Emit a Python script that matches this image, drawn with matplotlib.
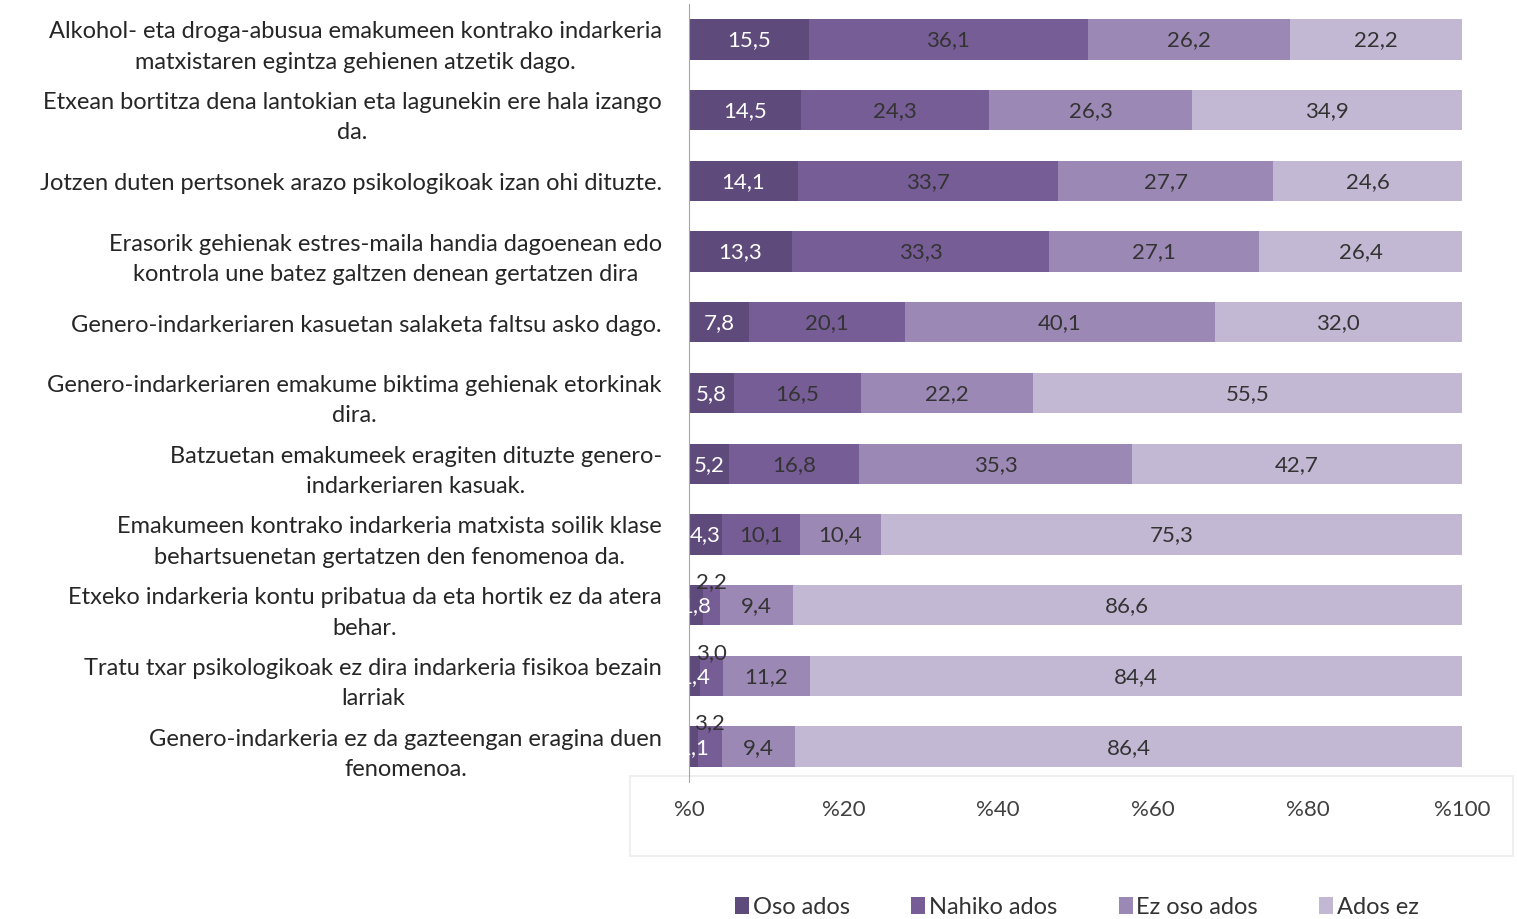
import numpy as np
import matplotlib
matplotlib.use("Agg")
from matplotlib import pyplot as plt
from matplotlib.patches import Rectangle

plt.rcParams['font.family'] = ['Lato', 'DejaVu Sans']

# statements, top to bottom
statements = [
    "Alkohol- eta droga-abusua emakumeen kontrako indarkeria\nmatxistaren egintza gehienen atzetik dago.",
    "Etxean bortitza dena lantokian eta lagunekin ere hala izango\nda.",
    "Jotzen duten pertsonek arazo psikologikoak izan ohi dituzte.",
    "Erasorik gehienak estres-maila handia dagoenean edo\nkontrola une batez galtzen denean gertatzen dira",
    "Genero-indarkeriaren kasuetan salaketa faltsu asko dago.",
    "Genero-indarkeriaren emakume biktima gehienak etorkinak\ndira.",
    "Batzuetan emakumeek eragiten dituzte genero-\nindarkeriaren kasuak.",
    "Emakumeen kontrako indarkeria matxista soilik klase\nbehartsuenetan gertatzen den fenomenoa da.",
    "Etxeko indarkeria kontu pribatua da eta hortik ez da atera\nbehar.",
    "Tratu txar psikologikoak ez dira indarkeria fisikoa bezain\nlarriak",
    "Genero-indarkeria ez da gazteengan eragina duen\nfenomenoa.",
]

series_names = ["Oso ados", "Nahiko ados", "Ez oso ados", "Ados ez"]
oso_ados = [15.5, 14.5, 14.1, 13.3, 7.8, 5.8, 5.2, 4.3, 1.8, 1.4, 1.1]
nahiko_ados = [36.1, 24.3, 33.7, 33.3, 20.1, 16.5, 16.8, 10.1, 2.2, 3.0, 3.2]
ez_oso_ados = [26.2, 26.3, 27.7, 27.1, 40.1, 22.2, 35.3, 10.4, 9.4, 11.2, 9.4]
ados_ez = [22.2, 34.9, 24.6, 26.4, 32.0, 55.5, 42.7, 75.3, 86.6, 84.4, 86.4]

colors = ['#5f4b7b', '#775d96', '#9c88b4', '#c3b8d3']
label_colors = ['white', '#333333', '#333333', '#333333']

fig = plt.figure(figsize=(15.17, 9.2), dpi=100)

# light box behind the x tick labels
fig.patches.append(Rectangle((630 / 1517, 1 - 857 / 920), 883 / 1517, 80 / 920,
                             transform=fig.transFigure, facecolor='white',
                             edgecolor='#ececec', lw=1.2, zorder=-1))

ax = fig.add_axes([689 / 1517, 1 - 783 / 920, 773 / 1517, 778 / 920])
ax.patch.set_alpha(0)
ax.set_zorder(1)

pos = np.arange(len(statements))
data = [oso_ados, nahiko_ados, ez_oso_ados, ados_ez]
left = np.zeros(len(statements))
h = 0.57
for i, (vals, name) in enumerate(zip(data, series_names)):
    vals = np.array(vals)
    ax.barh(pos, vals, left=left, height=h, color=colors[i], label=name, zorder=2)
    for j, v in enumerate(vals):
        cx = left[j] + v / 2
        cy = pos[j]
        # small "Nahiko ados" values sit above the bar
        if i == 1 and v < 4:
            cy = pos[j] - 0.34
        ax.text(cx, cy, ('%.1f' % v).replace('.', ','), ha='center', va='center',
                fontsize=16, color=label_colors[i], zorder=3)
    left = left + vals

ax.set_xlim(0, 100)
ax.set_ylim(len(statements) - 0.5, -0.5)
ax.set_xticks([0, 20, 40, 60, 80, 100])
ax.set_xticklabels(['%0', '%20', '%40', '%60', '%80', '%100'], fontsize=16, color='#404040')
ax.set_yticks(pos)
ax.set_yticklabels(statements, fontsize=17, color='#262626', multialignment='center',
                   linespacing=1.55)
ax.tick_params(axis='y', length=0, pad=19.5)
ax.tick_params(axis='x', length=0, pad=12)
for s in ['top', 'right', 'bottom']:
    ax.spines[s].set_visible(False)
ax.spines['left'].set_color('#a6a6a6')

fig.legend(loc='center', bbox_to_anchor=(1077 / 1517, 1 - 908 / 920), ncol=4,
           frameon=False, fontsize=17, handlelength=0.6, handleheight=0.7,
           handletextpad=0.15, columnspacing=2.6, labelcolor='#333333')

fig.savefig('out.png', dpi=100)
